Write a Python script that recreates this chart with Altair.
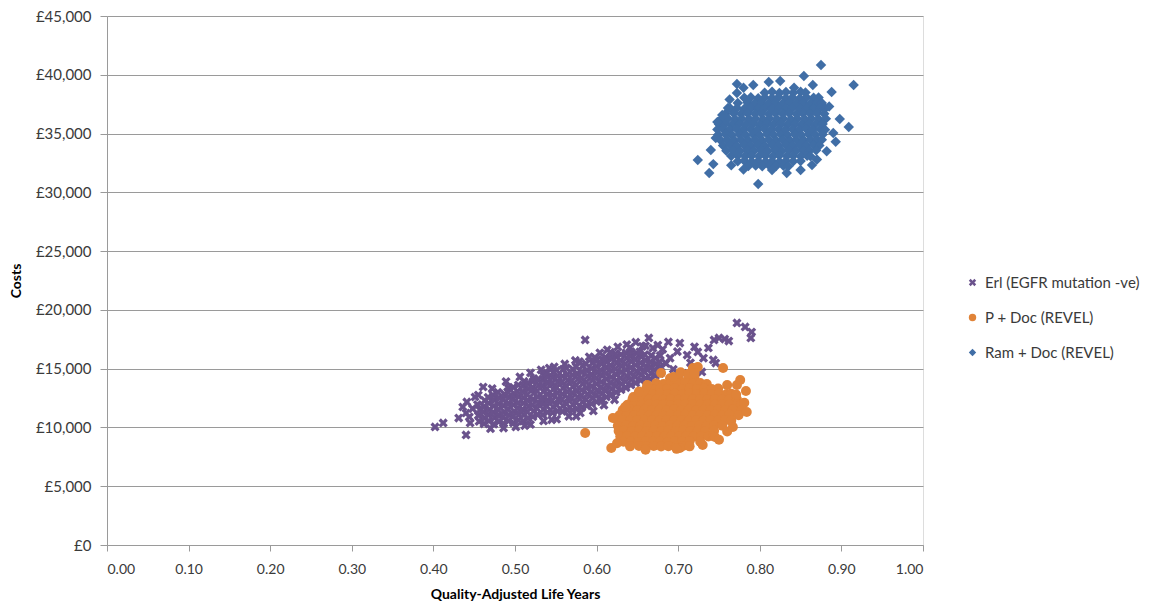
import altair as alt
import pandas as pd

series_names = ["Erl (EGFR mutation -ve)", "P + Doc (REVEL)", "Ram + Doc (REVEL)"]
series_colors = ["#6A528C", "#E08338", "#406EA6"]

x_ticks = [0.0, 0.1, 0.2, 0.3, 0.4, 0.5, 0.6, 0.7, 0.8, 0.9, 1.0]
y_ticks = [0, 5000, 10000, 15000, 20000, 25000, 30000, 35000, 40000, 45000]

# (QALY, cost) pairs
erl_points = [
    (0.402,10040),(0.412,10380),(0.440,9360),(0.431,10800),(0.440,11230),(0.441,12170),(0.436,11740),
    (0.445,10380),(0.444,10890),(0.455,12760),(0.461,13440),(0.451,12590),(0.448,11600),
    (0.456,10520),(0.455,11020),(0.457,11480),(0.454,11950),
    (0.462,10310),(0.463,10790),(0.461,11320),(0.462,11780),(0.463,12290),
    (0.468,10560),(0.467,11070),(0.469,11530),(0.468,12060),(0.467,12560),
    (0.474,10280),(0.475,10830),(0.473,11290),(0.474,11820),(0.475,12310),(0.473,12760),
    (0.480,10490),(0.481,11010),(0.479,11520),(0.480,11990),(0.481,12480),(0.479,12990),
    (0.486,10340),(0.485,10870),(0.487,11340),(0.486,11860),(0.485,12370),(0.487,12830),
    (0.492,10560),(0.493,11040),(0.491,11560),(0.492,12030),(0.493,12560),(0.491,13040),(0.492,13360),
    (0.498,10390),(0.497,10910),(0.499,11380),(0.498,11920),(0.497,12410),(0.499,12880),(0.498,13420),
    (0.504,10610),(0.505,11090),(0.503,11620),(0.504,12090),(0.505,12610),(0.503,13080),(0.504,13610),
    (0.510,10540),(0.511,11060),(0.509,11540),(0.510,12060),(0.511,12530),(0.509,13060),(0.510,13540),(0.511,13910),
    (0.516,10790),(0.515,11310),(0.517,11790),(0.516,12310),(0.515,12790),(0.517,13310),(0.516,13790),
    (0.522,10910),(0.523,11390),(0.521,11910),(0.522,12390),(0.523,12910),(0.521,13390),(0.522,13910),(0.523,14160),
    (0.528,11090),(0.527,11610),(0.529,12090),(0.528,12610),(0.527,13090),(0.529,13610),(0.528,14090),
    (0.534,11060),(0.535,11540),(0.533,12060),(0.534,12540),(0.535,13060),(0.533,13540),(0.534,14060),(0.535,14390),
    (0.540,11290),(0.539,11810),(0.541,12290),(0.540,12810),(0.539,13290),(0.541,13810),(0.540,14290),(0.539,14610),
    (0.546,11260),(0.547,11740),(0.545,12260),(0.546,12740),(0.547,13260),(0.545,13740),(0.546,14260),(0.547,14690),
    (0.552,11390),(0.551,11910),(0.553,12390),(0.552,12910),(0.551,13390),(0.553,13910),(0.552,14390),(0.551,14860),
    (0.558,11360),(0.559,11840),(0.557,12360),(0.558,12840),(0.559,13360),(0.557,13840),(0.558,14360),(0.559,14940),
    (0.564,11490),(0.563,12010),(0.565,12490),(0.564,13010),(0.563,13490),(0.565,14010),(0.564,14490),(0.563,15060),
    (0.570,11460),(0.571,11940),(0.569,12460),(0.570,12940),(0.571,13460),(0.569,13940),(0.570,14460),(0.571,14940),
    (0.576,11590),(0.575,12110),(0.577,12590),(0.576,13110),(0.575,13590),(0.577,14110),(0.576,14590),(0.575,15160),
    (0.582,11710),(0.583,12190),(0.581,12710),(0.582,13190),(0.583,13710),(0.581,14190),(0.582,14710),(0.583,15240),
    (0.588,11840),(0.587,12360),(0.589,12840),(0.588,13360),(0.587,13840),(0.589,14360),(0.588,14840),(0.587,15410),
    (0.594,12010),(0.595,12490),(0.593,13010),(0.594,13490),(0.595,14010),(0.593,14490),(0.594,15010),(0.595,15490),
    (0.600,12190),(0.599,12710),(0.601,13190),(0.600,13710),(0.599,14190),(0.601,14710),(0.600,15190),(0.599,15660),
    (0.606,12410),(0.607,12890),(0.605,13410),(0.606,13890),(0.607,14410),(0.605,14890),(0.606,15410),(0.607,15790),
    (0.612,12590),(0.611,13110),(0.613,13590),(0.612,14110),(0.611,14590),(0.613,15110),(0.612,15590),(0.611,15960),
    (0.618,12810),(0.619,13290),(0.617,13810),(0.618,14290),(0.619,14810),(0.617,15290),(0.618,15810),(0.619,16090),
    (0.624,12990),(0.623,13510),(0.625,13990),(0.624,14510),(0.623,14990),(0.625,15510),(0.624,15990),(0.623,16260),
    (0.630,13210),(0.631,13690),(0.629,14210),(0.630,14690),(0.631,15210),(0.629,15690),(0.630,16210),
    (0.636,13390),(0.635,13910),(0.637,14390),(0.636,14910),(0.635,15390),(0.637,15910),(0.636,16340),
    (0.642,13610),(0.643,14090),(0.641,14610),(0.642,15090),(0.643,15610),(0.641,16090),(0.642,16460),
    (0.648,13790),(0.647,14310),(0.649,14790),(0.648,15310),(0.647,15790),(0.649,16310),
    (0.654,14010),(0.655,14490),(0.653,15010),(0.654,15490),(0.655,16010),(0.653,16440),
    (0.660,14190),(0.659,14710),(0.661,15190),(0.660,15710),(0.659,16190),
    (0.666,14110),(0.667,14590),(0.665,15110),(0.666,15590),(0.667,16110),
    (0.672,14410),(0.671,14890),(0.673,15410),(0.672,15890),
    (0.678,14590),(0.679,15110),(0.677,15590),(0.678,16110),
    (0.472,13300),(0.489,13900),(0.506,14300),(0.519,14650),(0.532,14900),(0.548,15150),(0.561,15400),
    (0.574,15700),(0.586,17440),(0.591,16000),(0.604,16350),(0.613,16600),(0.626,16850),(0.637,17050),
    (0.648,17250),(0.664,17610),(0.656,16900),(0.669,16750),(0.688,17270),(0.702,17180),(0.711,16160),
    (0.724,16420),(0.737,16760),(0.744,17440),(0.750,17610),(0.757,17520),(0.762,17350),(0.772,18890),
    (0.782,18550),(0.790,18120),(0.789,17610),(0.743,15740),(0.746,15480),(0.729,14720),(0.690,15900),
    (0.699,16450),(0.685,15450),(0.694,14950),(0.715,15500),(0.720,16850),(0.731,15900),(0.706,14600),
    (0.681,16650),(0.675,17000),(0.660,16950),(0.641,16800),(0.617,16400),(0.598,15950),(0.579,15600),
    (0.542,15050),
    (0.470,9900),(0.486,9950),(0.501,10050),(0.519,10250),(0.535,10550),(0.551,10700),(0.566,10950),
    (0.580,11230),(0.596,11400),(0.609,11900),(0.622,12350),(0.575,10950),(0.545,10650),(0.512,10150),
]

pdoc_points = [
    (0.690,14180),(0.700,14250),(0.712,14150),(0.720,14300),
    (0.673,13760),(0.682,13700),(0.691,13800),(0.700,13720),(0.709,13790),(0.718,13710),(0.727,13780),(0.735,13690),
    (0.661,13310),(0.669,13260),(0.678,13340),(0.687,13280),(0.696,13320),(0.705,13250),(0.714,13330),(0.723,13270),
    (0.732,13310),(0.741,13260),(0.749,13320),
    (0.651,12840),(0.660,12880),(0.669,12820),(0.678,12870),(0.687,12830),(0.696,12860),(0.705,12810),(0.714,12880),
    (0.723,12840),(0.732,12870),(0.741,12820),(0.750,12860),(0.759,12830),(0.765,12870),
    (0.644,12390),(0.655,12430),(0.664,12370),(0.673,12420),(0.682,12380),(0.691,12410),(0.700,12360),(0.709,12430),
    (0.718,12390),(0.727,12420),(0.736,12370),(0.745,12410),(0.754,12380),(0.763,12420),(0.772,12390),
    (0.638,11940),(0.646,11980),(0.655,11920),(0.664,11970),(0.673,11930),(0.682,11960),(0.691,11910),(0.700,11980),
    (0.709,11940),(0.718,11970),(0.727,11920),(0.736,11960),(0.745,11930),(0.754,11980),(0.763,11940),(0.772,11970),
    (0.777,11920),
    (0.632,11490),(0.641,11530),(0.650,11470),(0.659,11520),(0.668,11480),(0.677,11510),(0.686,11460),(0.695,11530),
    (0.704,11490),(0.713,11520),(0.722,11470),(0.731,11510),(0.740,11480),(0.749,11530),(0.758,11490),(0.767,11520),
    (0.778,11480),
    (0.628,11040),(0.637,11080),(0.646,11020),(0.655,11070),(0.664,11030),(0.673,11060),(0.682,11010),(0.691,11080),
    (0.700,11040),(0.709,11070),(0.718,11020),(0.727,11060),(0.736,11030),(0.745,11080),(0.754,11040),(0.763,11070),
    (0.774,11030),
    (0.626,10590),(0.632,10630),(0.641,10570),(0.650,10620),(0.659,10580),(0.668,10610),(0.677,10560),(0.686,10630),
    (0.695,10590),(0.704,10620),(0.713,10570),(0.722,10610),(0.731,10580),(0.740,10630),(0.749,10590),(0.758,10620),
    (0.765,10580),
    (0.626,10140),(0.636,10180),(0.645,10120),(0.654,10170),(0.663,10130),(0.672,10160),(0.681,10110),(0.690,10180),
    (0.699,10140),(0.708,10170),(0.717,10120),(0.726,10160),(0.735,10130),(0.744,10180),(0.754,10140),
    (0.627,9690),(0.634,9730),(0.643,9670),(0.652,9720),(0.661,9680),(0.670,9710),(0.679,9660),(0.688,9730),
    (0.697,9690),(0.706,9720),(0.715,9670),(0.724,9710),(0.733,9680),(0.744,9720),
    (0.629,9240),(0.638,9280),(0.647,9220),(0.656,9270),(0.665,9230),(0.674,9260),(0.683,9210),(0.692,9280),
    (0.701,9240),(0.710,9270),(0.719,9220),(0.728,9260),(0.737,9230),
    (0.633,8790),(0.642,8830),(0.651,8770),(0.660,8820),(0.669,8780),(0.678,8810),(0.687,8760),(0.696,8830),
    (0.705,8790),(0.714,8820),(0.727,8780),
    (0.641,8390),(0.652,8430),(0.661,8370),(0.670,8420),(0.679,8380),(0.688,8410),(0.697,8360),(0.706,8430),
    (0.714,8390),
    (0.586,9530),(0.618,8250),(0.620,10800),(0.679,14630),(0.694,14290),(0.718,15060),(0.724,15140),(0.755,15060),
    (0.772,13610),(0.776,14040),(0.783,13100),(0.784,11310),(0.767,10040),(0.743,9270),(0.745,9190),(0.703,14700),
    (0.712,14550),(0.662,13610),(0.760,13600),(0.771,12800),(0.781,12100),(0.760,9650),(0.750,8950),(0.730,8500),
    (0.702,8250),(0.660,8100),(0.625,8650),(0.645,12590),(0.635,11740),(0.652,13050),(0.720,14600),(0.698,8180),
]

ramdoc_points = [
    (0.806,38480),(0.815,38550),(0.824,38460),(0.832,38530),(0.841,38470),(0.850,38560),(0.856,38490),
    (0.781,38040),(0.789,38090),(0.798,38010),(0.806,38070),(0.815,38020),(0.823,38080),(0.832,38030),(0.840,38060),
    (0.849,38010),(0.857,38090),(0.866,38040),(0.872,38070),
    (0.773,37590),(0.785,37640),(0.794,37570),(0.802,37620),(0.811,37580),(0.819,37630),(0.828,37560),(0.836,37640),
    (0.845,37590),(0.853,37620),(0.862,37570),(0.870,37630),(0.876,37590),
    (0.764,37140),(0.772,37180),(0.781,37120),(0.789,37170),(0.798,37130),(0.806,37160),(0.815,37110),(0.823,37180),
    (0.832,37140),(0.840,37170),(0.849,37120),(0.857,37160),(0.866,37130),(0.874,37180),(0.880,37140),
    (0.758,36690),(0.768,36730),(0.777,36670),(0.785,36720),(0.794,36680),(0.802,36710),(0.811,36660),(0.819,36730),
    (0.828,36690),(0.836,36720),(0.845,36670),(0.853,36710),(0.862,36680),(0.870,36730),(0.879,36690),
    (0.753,36240),(0.761,36280),(0.770,36220),(0.778,36270),(0.787,36230),(0.795,36260),(0.804,36210),(0.812,36280),
    (0.821,36240),(0.829,36270),(0.838,36220),(0.846,36260),(0.855,36230),(0.863,36280),(0.872,36240),(0.881,36270),
    (0.750,35790),(0.758,35830),(0.766,35770),(0.775,35820),(0.783,35780),(0.792,35810),(0.800,35760),(0.809,35830),
    (0.817,35790),(0.826,35820),(0.834,35770),(0.843,35810),(0.851,35780),(0.860,35830),(0.868,35790),(0.877,35820),
    (0.748,35340),(0.755,35380),(0.763,35320),(0.772,35370),(0.780,35330),(0.789,35360),(0.797,35310),(0.806,35380),
    (0.814,35340),(0.823,35370),(0.831,35320),(0.840,35360),(0.848,35330),(0.857,35380),(0.865,35340),(0.874,35370),
    (0.880,35320),
    (0.749,34890),(0.758,34930),(0.766,34870),(0.775,34920),(0.783,34880),(0.792,34910),(0.800,34860),(0.809,34930),
    (0.817,34890),(0.826,34920),(0.834,34870),(0.843,34910),(0.851,34880),(0.860,34930),(0.868,34890),(0.877,34920),
    (0.752,34440),(0.760,34480),(0.769,34420),(0.777,34470),(0.786,34430),(0.794,34460),(0.803,34410),(0.811,34480),
    (0.820,34440),(0.828,34470),(0.837,34420),(0.845,34460),(0.854,34430),(0.862,34480),(0.871,34440),(0.876,34470),
    (0.755,33990),(0.764,34030),(0.772,33970),(0.781,34020),(0.789,33980),(0.798,34010),(0.806,33960),(0.815,34030),
    (0.823,33990),(0.832,34020),(0.840,33970),(0.849,34010),(0.857,33980),(0.866,34030),(0.873,33990),
    (0.759,33540),(0.768,33580),(0.776,33520),(0.785,33570),(0.793,33530),(0.802,33560),(0.810,33510),(0.819,33580),
    (0.827,33540),(0.836,33570),(0.844,33520),(0.853,33560),(0.861,33530),(0.869,33580),
    (0.765,33090),(0.773,33130),(0.782,33070),(0.790,33120),(0.799,33080),(0.807,33110),(0.816,33060),(0.824,33130),
    (0.833,33090),(0.841,33120),(0.850,33070),(0.858,33110),(0.862,33080),
    (0.773,32640),(0.781,32680),(0.790,32620),(0.798,32670),(0.807,32630),(0.815,32660),(0.824,32610),(0.832,32680),
    (0.841,32640),(0.850,32670),
    (0.786,32240),(0.795,32280),(0.803,32220),(0.812,32270),(0.820,32230),(0.829,32260),(0.835,32210),
    (0.724,32750),(0.738,31650),(0.743,32400),(0.798,30700),(0.875,40830),(0.915,39130),(0.909,35560),(0.898,36240),
    (0.890,35050),(0.772,39220),(0.772,38450),(0.854,39900),(0.825,39470),(0.811,39390),(0.792,39130),(0.865,39130),
    (0.888,38540),(0.833,31650),(0.864,32330),(0.748,35980),(0.746,34620),(0.761,37180),(0.780,38900),(0.842,38900),
    (0.885,37300),(0.893,34300),(0.882,33500),(0.870,32800),(0.850,31900),(0.815,31900),(0.780,31950),(0.765,32300),
    (0.754,36580),(0.763,37900),(0.740,33600),
]

rows = []
for name, pts in zip(series_names, [erl_points, pdoc_points, ramdoc_points]):
    for q, c in pts:
        rows.append({"series": name, "qaly": q, "cost": c})
df = pd.DataFrame(rows)

x_path = "M-1,-0.5L-0.5,0L-1,0.5L-0.5,1L0,0.5L0.5,1L1,0.5L0.5,0L1,-0.5L0.5,-1L0,-0.5L-0.5,-1Z"

FONT = "Lato"
TXT = "#3a3a3a"
GRID = "#9a9a9a"

legend = alt.Legend(
    title=None, orient="none", legendX=858, legendY=259, symbolSize=55,
    labelFont=FONT, labelFontSize=15, labelColor=TXT, rowPadding=19, labelLimit=400,
    labelOffset=5, padding=0, symbolStrokeWidth=0,
)

chart = alt.Chart(df).transform_calculate(
    sz="datum.series == 'Erl (EGFR mutation -ve)' ? 85 : (datum.series == 'P + Doc (REVEL)' ? 100 : 110)"
).mark_point(filled=True, opacity=1, strokeWidth=0).encode(
    x=alt.X("qaly:Q", scale=alt.Scale(domain=[0, 1], nice=False, zero=False),
            axis=alt.Axis(values=x_ticks, format=".2f", title="Quality-Adjusted Life Years",
                          grid=False, domainColor=GRID, tickColor=GRID, tickSize=6,
                          labelFont=FONT, labelFontSize=14, labelColor=TXT, labelPadding=11,
                          titleFont=FONT, titleFontSize=14, titleFontWeight="bold", titleColor="#000000",
                          titlePadding=11)),
    y=alt.Y("cost:Q", scale=alt.Scale(domain=[0, 45000], nice=False),
            axis=alt.Axis(values=y_ticks, labelExpr="'£' + format(datum.value, ',')", title="Costs",
                          grid=True, gridColor=GRID, domainColor=GRID, tickColor=GRID, tickSize=7,
                          labelFont=FONT, labelFontSize=15, labelColor=TXT, labelPadding=9,
                          titleFont=FONT, titleFontSize=14, titleFontWeight="bold", titleColor="#000000",
                          titlePadding=12)),
    color=alt.Color("series:N", scale=alt.Scale(domain=series_names, range=series_colors), legend=legend),
    shape=alt.Shape("series:N", scale=alt.Scale(domain=series_names, range=[x_path, "circle", "diamond"]), legend=legend),
    size=alt.Size("sz:Q", scale=None),
).properties(
    width=816, height=529,
    autosize=alt.AutoSizeParams(type="none"),
    padding={"left": 99, "top": 8, "right": 227, "bottom": 59},
).configure_view(strokeWidth=0).configure(background="white")

chart.save("out.html", embed_options={"renderer": "svg", "actions": False})
